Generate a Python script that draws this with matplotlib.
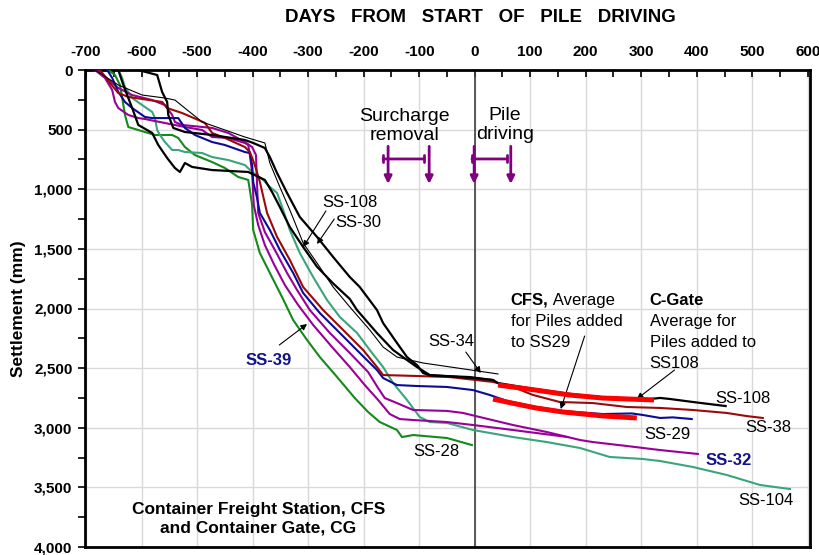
import matplotlib
matplotlib.use("Agg")
import matplotlib.pyplot as plt
from matplotlib.ticker import MultipleLocator, FuncFormatter

# ---------------- data (days from start of pile driving, settlement mm) -------------
ss30_days = [-606, -572, -563, -554, -552, -543, -522, -473, -414, -399, -378, -369, -356, -338,
             -315, -284, -255, -225, -207, -176, -165, -140, -122, -104, -93, -81, -9, 33]
ss30_mm = [0, 42, 185, 268, 377, 486, 520, 545, 587, 612, 654, 730, 864, 1031,
           1233, 1400, 1568, 1736, 1820, 2013, 2122, 2289, 2407, 2474, 2541, 2560, 2575, 2600]

ss108_days = [-642, -633, -617, -606, -581, -570, -554, -540, -531, -522, -509, -473, -408, -378,
              -365, -351, -333, -309, -284, -255, -225, -212, -176, -147, -122, -104, -81, -3, 33,
              42, 100, 170, 231, 292, 316, 334, 352, 393, 452]
ss108_mm = [0, 126, 319, 461, 528, 629, 738, 822, 855, 780, 813, 839, 855, 922,
            1023, 1149, 1317, 1484, 1650, 1790, 1920, 2013, 2206, 2348, 2432, 2491, 2558, 2583, 2600,
            2625, 2670, 2715, 2745, 2755, 2759, 2750, 2759, 2784, 2818]

ss34_days = [-684, -642, -599, -558, -540, -491, -450, -414, -378, -369, -351, -333, -309, -284,
             -255, -225, -189, -165, -140, -117, -93, 42]
ss34_mm = [0, 126, 210, 235, 252, 436, 503, 562, 612, 780, 981, 1174, 1451, 1619,
           1820, 1987, 2180, 2323, 2407, 2432, 2457, 2549]

ss38_days = [-675, -657, -642, -624, -563, -554, -527, -498, -486, -473, -450, -414, -405, -396,
             -387, -374, -356, -333, -309, -273, -237, -201, -176, -165, -104, -45, 33, 69, 105,
             153, 213, 274, 334, 393, 454, 490, 519]
ss38_mm = [0, 109, 193, 226, 268, 319, 361, 419, 444, 528, 570, 646, 688, 797,
           939, 1199, 1400, 1593, 1820, 2013, 2180, 2348, 2491, 2558, 2566, 2575, 2616, 2658, 2725,
           2784, 2793, 2826, 2834, 2851, 2876, 2902, 2918]

ss29_days = [-662, -653, -642, -630, -617, -594, -581, -534, -522, -504, -473, -450, -414, -405,
             -401, -399, -392, -387, -369, -351, -327, -309, -279, -243, -207, -176, -165, -140,
             -104, -50, -3, 27, 58, 110, 159, 231, 283, 303, 334, 357, 391]
ss29_mm = [0, 67, 184, 268, 319, 394, 403, 403, 486, 545, 604, 629, 688, 696,
           797, 939, 1073, 1199, 1342, 1509, 1702, 1870, 2038, 2205, 2373, 2516, 2583, 2642,
           2650, 2658, 2684, 2725, 2775, 2825, 2860, 2885, 2880, 2893, 2918, 2913, 2927]

ss39_days = [-684, -666, -653, -648, -642, -624, -606, -594, -522, -491, -473, -444, -414, -408,
             -405, -401, -398, -390, -378, -361, -342, -318, -291, -257, -225, -198, -174, -153,
             -135, -111, -50, -3, 69, 168]
ss39_mm = [0, 67, 168, 268, 319, 377, 403, 411, 478, 503, 562, 570, 612, 629,
           713, 855, 1132, 1300, 1468, 1635, 1803, 1971, 2138, 2323, 2491, 2642, 2767, 2885,
           2927, 2935, 2952, 2977, 3019, 3078]

ss32_days = [-680, -653, -642, -617, -581, -558, -545, -540, -527, -473, -444, -414, -401, -394,
             -392, -390, -378, -360, -338, -320, -297, -261, -225, -192, -174, -162, -140, -111,
             -50, -21, 9, 69, 130, 190, 213, 274, 334, 402]
ss32_mm = [0, 109, 151, 210, 252, 294, 377, 436, 461, 486, 528, 604, 646, 713,
           964, 1199, 1359, 1509, 1702, 1845, 2013, 2205, 2373, 2533, 2667, 2751, 2793, 2851,
           2859, 2876, 2910, 2977, 3036, 3103, 3120, 3153, 3187, 3220]

ss28_days = [-660, -648, -639, -635, -630, -624, -594, -576, -545, -534, -522, -504, -473, -450,
             -426, -408, -405, -401, -399, -387, -369, -347, -327, -302, -279, -248, -216, -192,
             -171, -140, -131, -111, -50, -5]
ss28_mm = [0, 42, 126, 235, 377, 478, 520, 545, 545, 570, 646, 713, 772, 822,
           897, 922, 1006, 1132, 1342, 1535, 1702, 1904, 2097, 2264, 2407, 2574, 2751, 2868,
           2952, 3019, 3078, 3061, 3086, 3145]

ss104_days = [-642, -635, -630, -617, -599, -581, -576, -572, -567, -558, -545, -534, -522, -491,
              -473, -444, -414, -401, -381, -369, -356, -345, -333, -315, -291, -266, -243, -212,
              -189, -165, -147, -122, -99, -81, -50, -3, 69, 130, 190, 243, 303, 334, 393, 454,
              514, 568]
ss104_mm = [0, 67, 143, 235, 294, 352, 403, 503, 545, 604, 671, 671, 688, 696,
            730, 755, 797, 855, 922, 981, 1031, 1174, 1342, 1535, 1736, 1929, 2071, 2205,
            2348, 2491, 2625, 2767, 2910, 2952, 2960, 3019, 3078, 3120, 3170, 3245, 3262, 3279,
            3329, 3396, 3480, 3514]

cgate_days = [42, 110, 170, 231, 323]
cgate_mm = [2642, 2684, 2725, 2751, 2767]
cfs_days = [33, 67, 110, 159, 231, 292]
cfs_mm = [2759, 2793, 2834, 2868, 2901, 2918]

x_ticks = list(range(-700, 601, 100))
y_ticks = list(range(0, 4001, 500))

# ---------------- styling -------------
BLACK = "#000000"
DRED = "#9A0A0A"
BLUE = "#0B0B96"
PURPLE = "#990099"
GREEN = "#138A1A"
TEAL = "#3AA57B"
RED = "#FF0000"
NAVY = "#12128C"
ARIAL = ["Liberation Sans", "DejaVu Sans"]

plt.rcParams["font.family"] = ARIAL
plt.rcParams["axes.unicode_minus"] = False

fig = plt.figure(figsize=(8.2, 5.55), dpi=100)
ax = fig.add_axes([85 / 820, 1 - 547 / 555, 725 / 820, 477 / 555])

ax.set_xlim(-702, 604)
ax.set_ylim(4000, 0)

ax.grid(True, color="#d9d9d9", lw=1.0, zorder=0)
ax.set_axisbelow(True)
ax.axvline(0, color="#404040", lw=1.2, zorder=1)

lw_c = 1.5
ax.plot(ss28_days, ss28_mm, color=GREEN, lw=lw_c, zorder=3)
ax.plot(ss104_days, ss104_mm, color=TEAL, lw=lw_c, zorder=3)
ax.plot(ss39_days, ss39_mm, color=PURPLE, lw=lw_c, zorder=3)
ax.plot(ss32_days, ss32_mm, color=PURPLE, lw=lw_c, zorder=3)
ax.plot(ss29_days, ss29_mm, color=BLUE, lw=lw_c, zorder=3)
ax.plot(ss38_days, ss38_mm, color=DRED, lw=lw_c, zorder=3)
ax.plot(ss34_days, ss34_mm, color=BLACK, lw=0.8, zorder=4)
ax.plot(ss108_days, ss108_mm, color=BLACK, lw=1.6, zorder=4)
ax.plot(ss30_days, ss30_mm, color=BLACK, lw=1.6, zorder=4)
ax.plot(cgate_days, cgate_mm, color=RED, lw=3.6, solid_capstyle="butt", zorder=5)
ax.plot(cfs_days, cfs_mm, color=RED, lw=3.6, solid_capstyle="butt", zorder=5)

# ---------------- axes -------------
ax.xaxis.tick_top()
ax.set_xticks(x_ticks)
ax.xaxis.set_minor_locator(MultipleLocator(50))
ax.tick_params(axis="x", which="both", direction="in", top=True, bottom=False, length=5,
               width=1.2, pad=8)
for lab in ax.get_xticklabels():
    lab.set_fontweight("bold")
    lab.set_fontsize(11)

ax.set_yticks(y_ticks)
ax.yaxis.set_minor_locator(MultipleLocator(250))
ax.yaxis.set_major_formatter(FuncFormatter(lambda v, p: f"{int(v):,}"))
ax.tick_params(axis="y", which="both", direction="out", left=True, length=5, width=1.2, pad=4)
for lab in ax.get_yticklabels():
    lab.set_fontweight("bold")
    lab.set_fontsize(11)

for s in ax.spines.values():
    s.set_linewidth(2.0)
    s.set_color("black")

ax.set_ylabel("Settlement (mm)", fontsize=12.5, fontweight="bold", labelpad=6)
fig.text(480 / 820, 1 - 18 / 555, "DAYS   FROM   START   OF   PILE   DRIVING", ha="center",
         va="center", fontsize=13.5, fontweight="bold")

# ---------------- annotations -------------
ax.text(-126, 470, "Surcharge\nremoval", ha="center", va="center", fontsize=14,
        linespacing=1.22)
ax.text(54, 461, "Pile\ndriving", ha="center", va="center", fontsize=14, linespacing=1.22)

for d in (-156, -82, -1, 65):
    ax.annotate("", xy=(d, 955), xytext=(d, 640),
                arrowprops=dict(arrowstyle="-|>", color="#800080", lw=2.0, mutation_scale=11,
                                shrinkA=0, shrinkB=0))
for d0, d1 in ((-165, -91), (-5, 58)):
    ax.annotate("", xy=(d1, 746), xytext=(d0, 746),
                arrowprops=dict(arrowstyle="|-|,widthA=0.25,widthB=0.25", color="#800080",
                                lw=2.0, shrinkA=0, shrinkB=0))

arrow_kw = dict(arrowstyle="-|>", color="black", lw=0.8, mutation_scale=9, shrinkA=0, shrinkB=0)
lab_fs = 12
ax.text(-275, 1107, "SS-108", fontsize=lab_fs, va="center", ha="left")
ax.text(-252, 1283, "SS-30", fontsize=lab_fs, va="center", ha="left")
ax.annotate("", xy=(-309, 1484), xytext=(-268, 1182), arrowprops=arrow_kw)
ax.annotate("", xy=(-284, 1459), xytext=(-253, 1250), arrowprops=arrow_kw)

ax.text(-84, 2273, "SS-34", fontsize=lab_fs, va="center", ha="left")
ax.annotate("", xy=(11, 2541), xytext=(-16, 2365), arrowprops=arrow_kw)

ax.text(-412, 2432, "SS-39", fontsize=lab_fs, va="center", ha="left", fontweight="bold",
        color=NAVY)
ax.annotate("", xy=(-302, 2130), xytext=(-352, 2306), arrowprops=arrow_kw)

t_cfs = ax.text(65, 1929, "CFS,", fontsize=lab_fs, va="center", ha="left", fontweight="bold")
ax.annotate(" Average", xy=(1, 0.5), xycoords=t_cfs, va="center", ha="left", fontsize=lab_fs)
ax.text(65, 2105, "for Piles added", fontsize=lab_fs, va="center", ha="left")
ax.text(65, 2289, "to SS29", fontsize=lab_fs, va="center", ha="left")
ax.annotate("", xy=(155, 2843), xytext=(198, 2231), arrowprops=arrow_kw)

ax.text(315, 1937, "C-Gate", fontsize=lab_fs, va="center", ha="left", fontweight="bold")
ax.text(315, 2113, "Average for", fontsize=lab_fs, va="center", ha="left")
ax.text(315, 2289, "Piles added to", fontsize=lab_fs, va="center", ha="left")
ax.text(315, 2465, "SS108", fontsize=lab_fs, va="center", ha="left")
ax.annotate("", xy=(292, 2759), xytext=(360, 2516), arrowprops=arrow_kw)

ax.text(434, 2751, "SS-108", fontsize=lab_fs, va="center", ha="left")
ax.text(487, 2994, "SS-38", fontsize=lab_fs, va="center", ha="left")
ax.text(306, 3053, "SS-29", fontsize=lab_fs, va="center", ha="left")
ax.text(416, 3271, "SS-32", fontsize=lab_fs, va="center", ha="left", fontweight="bold",
        color=NAVY)
ax.text(474, 3606, "SS-104", fontsize=lab_fs, va="center", ha="left")
ax.text(-111, 3203, "SS-28", fontsize=lab_fs, va="center", ha="left")

ax.text(-390, 3760, "Container Freight Station, CFS\nand Container Gate, CG", ha="center",
        va="center", fontsize=12.5, fontweight="bold", linespacing=1.3)

fig.savefig("out.png", dpi=100)
